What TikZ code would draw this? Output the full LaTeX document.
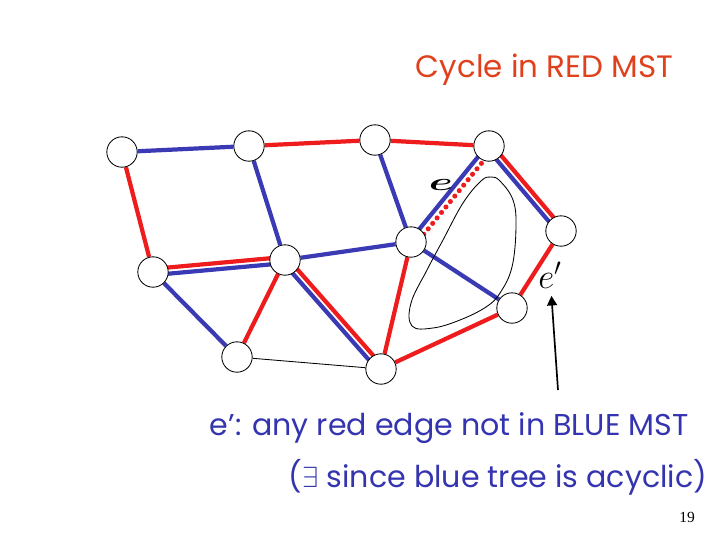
\documentclass[tikz,border=0pt]{standalone}
\usepackage{fontspec}
\setmainfont{Poppins}
\newfontfamily\numfont{Liberation Serif}
\usepackage{tikz}
\usetikzlibrary{arrows.meta,calc,backgrounds}
\definecolor{mstred}{HTML}{EE1C1C}
\definecolor{mstblue}{HTML}{3A3AB4}
\definecolor{txtblue}{HTML}{3434B0}
\definecolor{ttlred}{HTML}{E0401C}

\begin{document}
\begin{tikzpicture}[x=0.25mm, y=-0.25mm,
    vert/.style={circle, draw=black, line width=0.6pt, fill=white,
                 minimum size=7.6mm, inner sep=0pt},
    redge/.style={mstred, line width=3pt},
    bedge/.style={mstblue, line width=3pt},
    plain/.style={black, line width=0.6pt},
    reddots/.style={mstred, line width=3.6pt, line cap=round, dash pattern=on 0pt off 5pt},
    ttl/.style={text=ttlred, font=\fontsize{22}{25}\selectfont},
    note/.style={text=txtblue, font=\fontsize{21.4}{25}\selectfont},
    arr/.style={-{Triangle[length=2.4mm, width=2.5mm]}, line width=1.2pt}]
  \useasboundingbox (0,0) rectangle (720,540);
  % vertices
  \node[vert] (A) at (122,152) {};
  \node[vert] (B) at (249,146) {};
  \node[vert] (C) at (375,140) {};
  \node[vert] (D) at (489,146) {};
  \node[vert] (E) at (561,231) {};
  \node[vert] (F) at (411,242) {};
  \node[vert] (G) at (285,260) {};
  \node[vert] (H) at (153,272) {};
  \node[vert] (I) at (237,357) {};
  \node[vert] (J) at (381,369) {};
  \node[vert] (K) at (512,308) {};
  % edges of both trees
  \begin{scope}[on background layer]
    \draw[bedge] (A) -- (B);
    \draw[redge] (B) -- (C);
    \draw[redge] (C) -- (D);
    \draw[redge] (A) -- (H);
    \draw[bedge] (B) -- (G);
    \draw[bedge] (C) -- (F);
    \draw[bedge] (G) -- (F);
    \draw[bedge] (F) -- (K);
    \draw[redge] (F) -- (J);
    \draw[redge] (G) -- (I);
    \draw[bedge] (H) -- (I);
    \draw[plain] (I) -- (J);
    \draw[redge] (J) -- (K);
    \draw[redge] (E) -- (K);
    % shared edges, drawn side by side
    \draw[redge] ($(H)!2.2pt!90:(G)$) -- ($(G)!2.2pt!-90:(H)$);
    \draw[bedge] ($(H)!2.2pt!-90:(G)$) -- ($(G)!2.2pt!90:(H)$);
    \draw[redge] ($(G)!2.2pt!90:(J)$) -- ($(J)!2.2pt!-90:(G)$);
    \draw[bedge] ($(G)!2.2pt!-90:(J)$) -- ($(J)!2.2pt!90:(G)$);
    \draw[redge] ($(D)!2.2pt!90:(E)$) -- ($(E)!2.2pt!-90:(D)$);
    \draw[bedge] ($(D)!2.2pt!-90:(E)$) -- ($(E)!2.2pt!90:(D)$);
    % edge e
    \draw[bedge] ($(F)!1.2pt!90:(D)$) -- ($(D)!1.2pt!-90:(F)$);
    \draw[reddots] ($(F)!3.6pt!-90:(D)$) -- ($(D)!3.6pt!90:(F)$);
  \end{scope}
  % the cut
  \draw[plain] plot[smooth cycle, tension=0.65] coordinates {
    (491,177) (500,181) (513,200) (516,227) (512,267) (500,293) (486,307)
    (460,320) (433,328) (412,326) (411,303) (427,270) (443,240) (463,203) (481,181)};
  \node (elab) at (441,185) {\fontsize{22}{22}\selectfont\scalebox{1.5}[0.85]{\boldmath$e$}};
  \node (eprime) at (550,275) {\fontsize{23}{23}\selectfont$e'$};
  \coordinate (tail) at (558,390);
  \draw[arr, shorten >=2pt] (tail) -- (eprime);
  % texts
  \node[ttl, anchor=base west] (title) at (411,77) {Cycle in RED MST};
  \node[note, anchor=base west] (anyred) at (205,435) {e’: any red edge not in BLUE MST};
  \node[note, anchor=base west] (exists) at (284,487) {($\exists$ since blue tree is acyclic)};
  \node[font=\numfont\fontsize{11}{12}\selectfont] (pagenum) at (687,517) {19};
\end{tikzpicture}
\end{document}
